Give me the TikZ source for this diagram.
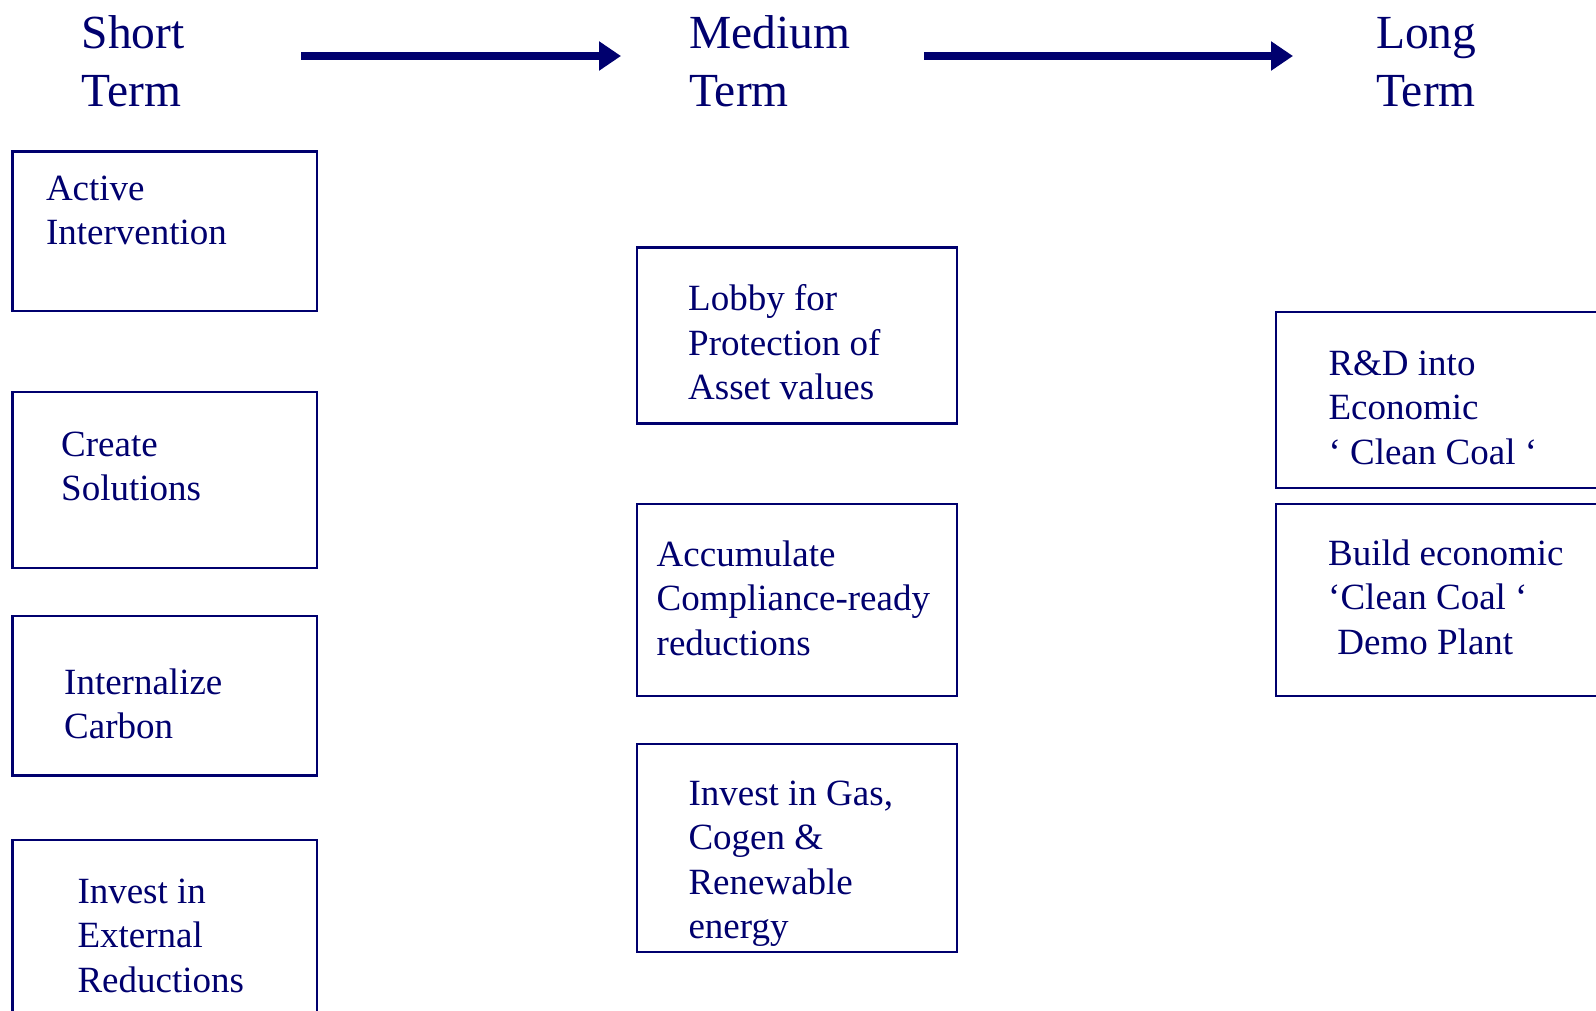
\documentclass[tikz,border=0pt]{standalone}
\usepackage{fontspec}
\setmainfont{Liberation Serif}
\usetikzlibrary{arrows.meta, positioning}
\definecolor{navyblue}{RGB}{0,0,110}
\tikzstyle{plan} = [rectangle, draw=navyblue, line width=2.2pt, minimum width=304.5pt, inner sep=0pt, outer sep=0pt]
\tikzstyle{plantext} = [anchor=base west, align=left, text=navyblue, inner sep=0pt, font=\fontsize{37}{44.5}\selectfont]
\tikzstyle{horizon} = [anchor=base west, align=left, text=navyblue, inner sep=0pt, font=\fontsize{47.5}{58}\selectfont]
\tikzstyle{timearrow} = [draw=navyblue, line width=8pt, -{Triangle[length=22pt, width=28pt]}]

\begin{document}
\begin{tikzpicture}[x=1pt, y=-1pt, node distance=240pt]
\clip (0,0) rectangle (1596,1011);
% time scale
\node (short) [horizon] at (81.4,107) {Short\\Term};
\node (medium) [horizon] at (689,107) {Medium\\Term};
\node (long) [horizon] at (1376,107) {Long\\Term};
\draw [timearrow, shorten <=116.7pt, shorten >=68pt] ([yshift=51pt]short.base east) -- ([yshift=51pt]medium.base west);
\draw [timearrow, shorten <=74pt, shorten >=83pt] ([yshift=51pt]medium.base east) -- ([yshift=51pt]long.base west);
% short term
\node (s1) [plan, minimum height=159.5pt] at (164.75,231.25) {};
\node (s2) [plan, minimum height=176pt, below of=s1, yshift=-8.75pt] {};
\node (s3) [plan, minimum height=159.5pt, below of=s2, yshift=24.25pt] {};
\node (s4) [plan, minimum height=200pt, below of=s3, yshift=-4.25pt] {};
% medium term
\node (m1) [plan, minimum width=320pt, minimum height=176pt, right of=s1, xshift=392.25pt, yshift=-104.25pt] {};
\node (m2) [plan, minimum width=320pt, minimum height=192pt, below of=m1, yshift=-24.5pt] {};
\node (m3) [plan, minimum width=320pt, minimum height=208pt, below of=m2, yshift=-8pt] {};
% long term
\node (l1) [plan, minimum width=340pt, minimum height=176.6pt, right of=m1, xshift=409pt, yshift=-64.5pt] {};
\node (l2) [plan, minimum width=340pt, minimum height=192pt, below of=l1, yshift=40pt] {};
% texts
\node (s1t) [plantext] at ([xshift=33.3pt, yshift=-93.5pt]s1.north west) {Active\\Intervention};
\node (s2t) [plantext] at ([xshift=48.5pt, yshift=-108.5pt]s2.north west) {Create\\Solutions};
\node (s3t) [plantext] at ([xshift=51.5pt, yshift=-122.5pt]s3.north west) {Internalize\\Carbon};
\node (s4t) [plantext] at ([xshift=64.8pt, yshift=-152pt]s4.north west) {Invest in\\External\\Reductions};
\node (m1t) [plantext] at ([xshift=51pt, yshift=-152pt]m1.north west) {Lobby for\\Protection of\\Asset values};
\node (m2t) [plantext] at ([xshift=19.5pt, yshift=-151pt]m2.north west) {Accumulate\\Compliance-ready\\reductions};
\node (m3t) [plantext] at ([xshift=51.3pt, yshift=-194.5pt]m3.north west) {Invest in Gas,\\Cogen \&\\Renewable\\energy};
\node (l1t) [plantext] at ([xshift=52.3pt, yshift=-152.3pt]l1.north west) {R\&D into\\Economic\\‘ Clean Coal ‘};
\node (l2t) [plantext] at ([xshift=52pt, yshift=-150pt]l2.north west) {Build economic\\‘Clean Coal ‘\\\hspace*{0.25em}Demo Plant};
\end{tikzpicture}
\end{document}
